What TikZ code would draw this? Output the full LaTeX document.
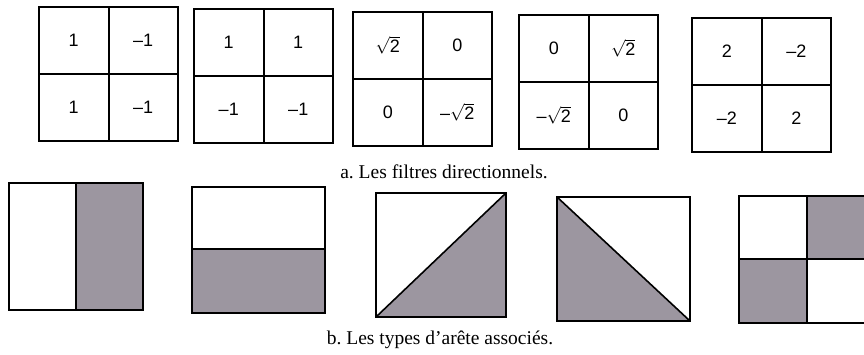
\documentclass[tikz,border=0pt]{standalone}
\usepackage{fontspec}
\setmainfont{Liberation Serif}
\setsansfont{Liberation Sans}
\usepackage{tikz}
\usetikzlibrary{positioning}
\definecolor{edgegray}{RGB}{156,150,160}
\newcommand{\racine}{$\sqrt{\mbox{2}}$}
\frenchspacing

\begin{document}
\begin{tikzpicture}[x=1pt, y=-1pt, line width=1.6pt,
    cell/.style={draw, outer sep=0pt, minimum width=69.5pt, minimum height=67pt, font=\sffamily\fontsize{18}{18}\selectfont},
    caption/.style={font=\fontsize{19.5}{19.5}\selectfont}]
    \clip (0,0) rectangle (864,355);
    % a. filtres directionnels
    \foreach \i/\x/\y/\a/\b/\c/\d in {1/39/7/1/--1/1/--1, 2/194/9/1/1/--1/--1, 3/353/12/\racine/0/0/--\racine, 4/519/15/0/\racine/--\racine/0, 5/692/18/2/--2/--2/2} {
        \node[cell, anchor=north west] (f\i a) at (\x,\y) {\a};
        \node[cell, right=0pt of f\i a] (f\i b) {\b};
        \node[cell, below=0pt of f\i a] (f\i c) {\c};
        \node[cell, right=0pt of f\i c] (f\i d) {\d};
        \draw[line width=2pt] (f\i a.north east) -- (f\i c.south east) (f\i a.south west) -- (f\i b.south east);
    }
    \node[caption] (capa) at (444,172) {a. Les filtres directionnels.};
    % b. types d'arete
    \fill[edgegray] (76,183) rectangle (143,310);
    \draw (9,183) rectangle (143,310) (76,183) -- (76,310);
    \fill[edgegray] (192,249) rectangle (325,313);
    \draw (192,187) rectangle (325,313) (192,249) -- (325,249);
    \fill[edgegray] (376,317) -- (506,193) -- (506,317) -- cycle;
    \draw (376,193) rectangle (506,317) (376,317) -- (506,193);
    \fill[edgegray] (557,197) -- (690,321) -- (557,321) -- cycle;
    \draw (557,197) rectangle (690,321) (557,197) -- (690,321);
    \fill[edgegray] (807,196) rectangle (875,259) (739,259) rectangle (807,323);
    \draw (739,196) rectangle (875,323) (807,196) -- (807,323) (739,259) -- (875,259);
    \node[caption] (capb) at (440,340) {b. Les types d’arête associés.};
\end{tikzpicture}
\end{document}
